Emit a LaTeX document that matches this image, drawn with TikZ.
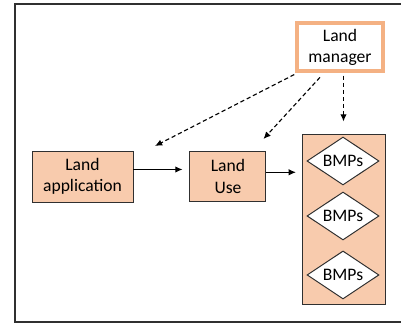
\documentclass[tikz,border=0pt]{standalone}
\usepackage{fontspec}
\setmainfont{Carlito}
\usepackage{xcolor}
\usepackage{tikz}
\usetikzlibrary{positioning, arrows.meta, shapes.geometric}

\definecolor{peach}{HTML}{F8CBAD}
\definecolor{peachline}{HTML}{F4B183}
\definecolor{edge}{HTML}{303030}

\begin{document}
\begin{tikzpicture}[
    node distance=1.4cm,
    font=\fontsize{12.5}{15}\selectfont,
    block/.style={
        rectangle,
        draw=edge,
        fill=peach,
        line width=0.7pt,
        align=center,
        inner sep=0pt
    },
    actor/.style={
        rectangle,
        draw=peachline,
        fill=white,
        line width=2.2pt,
        align=center,
        minimum width=2.15cm,
        minimum height=1.2cm
    },
    bmp/.style={
        diamond,
        draw=edge,
        fill=white,
        line width=0.7pt,
        inner sep=1pt,
        aspect=1.5,
        minimum width=1.8cm,
        minimum height=1.2cm
    },
    arrow/.style={
        line width=0.7pt,
        -{Latex[length=1.8mm,width=1.6mm]}
    },
    link/.style={
        line width=0.8pt,
        dashed,
        dash pattern=on 3pt off 2pt,
        -{Latex[length=1.8mm,width=1.6mm]}
    }
]
\useasboundingbox (0,0) rectangle (10.025,-8.125);

% Frame, open on the right
\draw[edge, line width=0.8pt] (10.2,-0.1) -- (0.375,-0.1) -- (0.375,-8.05) -- (10.2,-8.05);

% Nodes
\node[block, minimum width=2.525cm, minimum height=1.275cm] (landapp) at (2.0625,-4.4125) {Land\\application};
\node[block, minimum width=1.9cm, minimum height=1.25cm, right=of landapp] (landuse) {Land\\Use};
\node[actor] (manager) at (8.5,-1.175) {Land\\manager};
\node[block, minimum width=2.075cm, minimum height=4.25cm] (bmpbox) at (8.5875,-5.475) {};
\node[bmp] (bmp1) at (8.575,-4.025) {BMPs};
\node[bmp, below=0.15cm of bmp1] (bmp2) {BMPs};
\node[bmp, below=0.25cm of bmp2] (bmp3) {BMPs};

\coordinate (appin) at (3.875,-3.65);

% Arrows
\draw[arrow, shorten >=5pt] ([yshift=5pt]landapp.east) -- ([yshift=5pt]landuse.west);
\draw[arrow, shorten >=4pt] ([yshift=3pt]landuse.east) -- ([yshift=3pt]landuse.east -| bmpbox.west);

% Dashed links from the manager
\draw[link] ([shift={(-0.03,-0.05)}]manager.south west) -- (appin);
\draw[link] ([shift={(-0.5,-0.12)}]manager.south) -- ([shift={(-0.075,0.3)}]landuse.north east);
\draw[link, shorten >=0.3cm] ([yshift=-0.08cm]bmpbox.north |- manager.south) -- (bmpbox.north);
\end{tikzpicture}
\end{document}
